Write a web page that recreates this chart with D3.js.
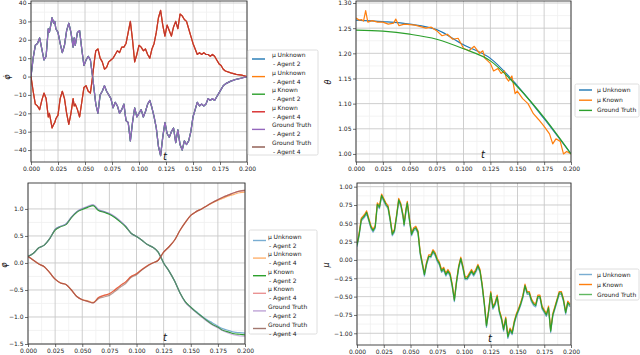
<!DOCTYPE html>
<html><head><meta charset="utf-8">
<script src="https://cdn.jsdelivr.net/npm/d3@7"></script>
<style>body{margin:0;background:#fff}svg{display:block}text{font-family:"DejaVu Sans",sans-serif}</style>
</head><body>
<svg id="c" width="640" height="355"></svg>
<script>
// ---------- DATA ----------
const xTicks = [0,0.025,0.05,0.075,0.1,0.125,0.15,0.175,0.2];

// Panel 1: phi-dot
const t1 = [0,0.002,0.004,0.006,0.008,0.010,0.012,0.014,0.016,0.017,0.018,0.0195,0.021,0.022,0.023,0.025,0.027,0.029,0.031,0.033,0.035,0.037,0.039,0.040,0.041,0.043,0.045,0.047,0.049,0.051,0.053,0.055,0.057,0.059,0.060,0.062,0.064,0.066,0.068,0.070,0.072,0.074,0.076,0.078,0.080,0.082,0.084,0.086,0.088,0.090,0.092,0.094,0.096,0.098,0.100,0.102,0.104,0.106,0.108,0.110,0.112,0.114,0.116,0.118,0.120,0.122,0.124,0.126,0.128,0.130,0.132,0.134,0.136,0.138,0.140,0.142,0.144,0.146,0.148,0.150,0.152,0.154,0.156,0.158,0.160,0.162,0.164,0.166,0.168,0.170,0.172,0.174,0.176,0.178,0.180,0.185,0.190,0.195,0.200];
const phiDot2 = [0,10,17,18,21,15,9,11,26,24,27,32,29,30,26,24,18,13,17,25,29,24,16,21,17,24,25,15,6,9,11,9,0,-10,-15,-20,-10,-8,-5,-8,-10,-12,-17,-14,-16,-20,-18,-15,-24,-25,-35,-25,-17,-22,-20,-18,-22,-19,-15,-13,-17,-22,-28,-38,-43,-33,-25,-31,-33,-30,-28,-36,-29,-37,-40,-35,-37,-35,-30,-22,-18,-14,-16,-15,-16,-15,-12,-13,-12,-13,-11,-9,-7,-5,-4,-2.5,-1.5,-0.8,0];
const phiDot4 = [0,-8,-15,-16,-18,-13,-9,-12,-22,-20,-23,-28,-26,-25,-23,-21,-12,-8,-12,-20,-26,-20,-12,-16,-15,-18,-22,-14,-6,-5,-8,-9,0,10,14,15,10,8,4,5,8,9,10,12,14,13,16,16,18,24,30,20,8,12,17,16,14,15,12,10,15,18,24,32,36,28,22,28,25,22,27,30,26,34,33,31,30,26,22,18,15,12,13,12,13,12,12,11,12,11,9,7,6,4,3,2,1.2,0.8,0];

// Panel 2: theta
const t2 = [0,0.025,0.05,0.075,0.1,0.125,0.15,0.175,0.2];
const thetaUnknown = [1.266,1.263,1.258,1.247,1.217,1.190,1.136,1.070,1.0];
const thetaTruth = [1.246,1.244,1.238,1.228,1.209,1.185,1.134,1.072,1.0];
const t2k = [0,0.003,0.005,0.007,0.009,0.011,0.015,0.02,0.025,0.03,0.035,0.037,0.04,0.045,0.05,0.055,0.06,0.065,0.07,0.075,0.08,0.085,0.09,0.095,0.1,0.105,0.11,0.115,0.118,0.12,0.125,0.128,0.132,0.135,0.138,0.14,0.142,0.145,0.148,0.15,0.155,0.16,0.165,0.17,0.175,0.18,0.183,0.186,0.19,0.193,0.196,0.2];
const thetaKnown = [1.270,1.266,1.267,1.264,1.285,1.262,1.265,1.262,1.262,1.258,1.260,1.268,1.255,1.258,1.257,1.256,1.253,1.250,1.252,1.245,1.235,1.238,1.228,1.230,1.210,1.205,1.214,1.200,1.205,1.190,1.180,1.165,1.170,1.160,1.165,1.150,1.145,1.155,1.120,1.125,1.110,1.100,1.080,1.068,1.055,1.040,1.020,1.030,1.025,1.000,1.005,1.000];

// Panel 3: phi
const t3 = [0,0.005,0.01,0.015,0.02,0.025,0.03,0.035,0.04,0.045,0.05,0.055,0.06,0.065,0.07,0.075,0.08,0.085,0.09,0.095,0.1,0.105,0.11,0.115,0.12,0.125,0.13,0.135,0.14,0.145,0.15,0.155,0.16,0.165,0.17,0.175,0.18,0.185,0.19,0.195,0.2];
const phi2Unknown = [0.12,0.18,0.28,0.33,0.45,0.62,0.68,0.72,0.85,0.95,1.0,1.04,1.07,0.98,0.95,0.91,0.85,0.77,0.68,0.55,0.49,0.42,0.34,0.29,0.2,0.0,-0.15,-0.33,-0.55,-0.72,-0.82,-0.9,-0.98,-1.05,-1.11,-1.17,-1.22,-1.25,-1.28,-1.29,-1.30];
const phi4Unknown = [0.12,0.05,-0.02,-0.07,-0.18,-0.3,-0.37,-0.4,-0.5,-0.62,-0.68,-0.7,-0.73,-0.64,-0.6,-0.57,-0.5,-0.42,-0.35,-0.25,-0.2,-0.12,-0.05,0.0,0.05,0.2,0.3,0.42,0.6,0.75,0.88,0.95,1.0,1.06,1.11,1.16,1.2,1.24,1.27,1.3,1.31];
const phi2Known = [0.12,0.18,0.28,0.33,0.45,0.61,0.67,0.71,0.84,0.94,0.99,1.03,1.06,0.97,0.94,0.90,0.84,0.76,0.67,0.55,0.49,0.42,0.34,0.29,0.2,0.0,-0.15,-0.33,-0.55,-0.72,-0.82,-0.91,-0.99,-1.07,-1.14,-1.19,-1.25,-1.28,-1.31,-1.32,-1.33];
const phi4Known = [0.12,0.05,-0.02,-0.07,-0.18,-0.3,-0.37,-0.4,-0.5,-0.62,-0.68,-0.71,-0.74,-0.64,-0.6,-0.57,-0.5,-0.42,-0.35,-0.25,-0.2,-0.12,-0.05,0.0,0.05,0.2,0.3,0.42,0.6,0.75,0.88,0.95,1.0,1.06,1.12,1.17,1.22,1.26,1.3,1.33,1.34];
const phi2Truth = [0.12,0.18,0.28,0.33,0.45,0.62,0.68,0.72,0.85,0.95,1.01,1.05,1.08,0.99,0.95,0.92,0.86,0.78,0.68,0.55,0.49,0.42,0.34,0.29,0.2,0.0,-0.15,-0.33,-0.55,-0.73,-0.83,-0.92,-1.0,-1.08,-1.15,-1.2,-1.26,-1.3,-1.33,-1.35,-1.36];
const phi4Truth = [0.12,0.05,-0.02,-0.07,-0.18,-0.3,-0.37,-0.4,-0.5,-0.62,-0.68,-0.71,-0.74,-0.66,-0.63,-0.6,-0.53,-0.45,-0.38,-0.27,-0.22,-0.13,-0.06,0.0,0.05,0.2,0.3,0.42,0.6,0.75,0.88,0.95,1.0,1.06,1.12,1.17,1.22,1.26,1.3,1.33,1.35];

// Panel 4: mu
const t4 = [0,0.002,0.004,0.007,0.009,0.011,0.013,0.015,0.017,0.019,0.021,0.023,0.025,0.027,0.029,0.031,0.033,0.035,0.037,0.039,0.041,0.043,0.044,0.046,0.047,0.049,0.051,0.053,0.055,0.057,0.059,0.061,0.063,0.065,0.067,0.069,0.071,0.073,0.075,0.077,0.079,0.081,0.083,0.085,0.087,0.089,0.091,0.093,0.095,0.097,0.099,0.101,0.103,0.105,0.107,0.109,0.111,0.113,0.115,0.117,0.119,0.121,0.123,0.125,0.127,0.129,0.131,0.133,0.135,0.137,0.139,0.141,0.143,0.145,0.147,0.149,0.151,0.153,0.155,0.157,0.159,0.161,0.163,0.165,0.167,0.169,0.171,0.173,0.175,0.177,0.179,0.181,0.183,0.185,0.187,0.189,0.191,0.193,0.195,0.197,0.199];
const muTruth = [0.2,0.35,0.55,0.6,0.65,0.55,0.45,0.4,0.45,0.76,0.72,0.88,0.82,0.76,0.72,0.55,0.35,0.4,0.6,0.82,0.75,0.6,0.48,0.7,0.78,0.55,0.35,0.42,0.44,0.38,0.1,-0.05,-0.2,-0.05,0.05,0.05,0.12,0.08,0.0,-0.05,-0.15,-0.12,-0.2,-0.15,-0.2,-0.35,-0.55,-0.3,-0.1,0.02,-0.1,-0.25,-0.25,-0.2,-0.15,-0.2,-0.15,-0.08,-0.15,-0.35,-0.6,-0.9,-0.7,-0.45,-0.65,-0.6,-0.5,-0.7,-0.8,-0.95,-0.8,-1.05,-0.95,-1.0,-0.85,-0.75,-0.68,-0.6,-0.5,-0.35,-0.45,-0.45,-0.55,-0.6,-0.62,-0.5,-0.5,-0.65,-0.7,-0.75,-0.65,-0.97,-0.75,-0.65,-0.55,-0.45,-0.45,-0.55,-0.72,-0.58,-0.62];
const muKnown = [0.22,0.37,0.57,0.62,0.67,0.57,0.47,0.42,0.47,0.78,0.74,0.9,0.84,0.78,0.74,0.57,0.37,0.42,0.62,0.84,0.77,0.62,0.5,0.72,0.8,0.57,0.37,0.44,0.46,0.4,0.12,-0.03,-0.18,-0.03,0.07,0.07,0.14,0.1,0.02,-0.03,-0.13,-0.1,-0.18,-0.13,-0.18,-0.33,-0.53,-0.28,-0.08,0.04,-0.08,-0.23,-0.23,-0.18,-0.13,-0.18,-0.13,-0.06,-0.13,-0.33,-0.58,-0.88,-0.68,-0.43,-0.63,-0.58,-0.48,-0.68,-0.78,-0.93,-0.78,-1.03,-0.93,-0.98,-0.83,-0.73,-0.66,-0.58,-0.48,-0.33,-0.43,-0.43,-0.53,-0.58,-0.6,-0.48,-0.48,-0.63,-0.68,-0.73,-0.63,-0.95,-0.73,-0.63,-0.53,-0.43,-0.43,-0.53,-0.7,-0.56,-0.6];
const muUnknown = [0.18,0.33,0.53,0.58,0.63,0.53,0.43,0.38,0.43,0.74,0.7,0.86,0.8,0.74,0.7,0.53,0.33,0.38,0.58,0.8,0.73,0.58,0.46,0.68,0.76,0.53,0.33,0.4,0.42,0.36,0.08,-0.07,-0.22,-0.07,0.03,0.03,0.1,0.06,-0.02,-0.07,-0.17,-0.14,-0.22,-0.17,-0.22,-0.37,-0.57,-0.32,-0.12,0.0,-0.12,-0.27,-0.27,-0.22,-0.17,-0.22,-0.17,-0.1,-0.17,-0.37,-0.62,-0.92,-0.72,-0.47,-0.67,-0.62,-0.52,-0.72,-0.82,-0.97,-0.82,-1.07,-0.97,-1.02,-0.87,-0.77,-0.7,-0.62,-0.52,-0.37,-0.47,-0.47,-0.57,-0.62,-0.64,-0.52,-0.52,-0.67,-0.72,-0.77,-0.67,-0.99,-0.77,-0.67,-0.57,-0.47,-0.47,-0.57,-0.74,-0.6,-0.64];

// ---------- DRAWING ----------
const svg = d3.select("#c");
const C = {blue:"#1f77b4",orange:"#ff7f0e",green:"#2ca02c",red:"#d62728",purple:"#9467bd",brown:"#8c564b"};
let clipId = 0;

function legendText(sel, x, y, str){
  if(str.startsWith("\u03bc ")){
    sel.append("text").attr("x",x).attr("y",y).attr("font-size",6).attr("fill","#222").text("\u03bc");
    sel.append("text").attr("x",x+5.6).attr("y",y).attr("font-size",6).attr("fill","#222").text(str.slice(2));
  } else {
    sel.append("text").attr("x",x).attr("y",y).attr("font-size",6).attr("fill","#222").text(str);
  }
}

function panel(cfg){
  const x = d3.scaleLinear().domain([0,0.2]).range([cfg.x0,cfg.x1]);
  const y = d3.scaleLinear().domain(cfg.yDom).range([cfg.y1,cfg.y0]);
  const g = svg.append("g");
  const xm = d3.range(0.0125,0.2,0.025);
  g.selectAll(null).data(xm).enter().append("line")
    .attr("x1",d=>x(d)).attr("x2",d=>x(d)).attr("y1",cfg.y0).attr("y2",cfg.y1)
    .attr("stroke","#f0f0f0").attr("stroke-width",0.8);
  const ym = [];
  for(let i=0;i<cfg.yTicks.length-1;i++) ym.push((cfg.yTicks[i]+cfg.yTicks[i+1])/2);
  g.selectAll(null).data(ym).enter().append("line")
    .attr("x1",cfg.x0).attr("x2",cfg.x1).attr("y1",d=>y(d)).attr("y2",d=>y(d))
    .attr("stroke","#f0f0f0").attr("stroke-width",0.8);
  g.selectAll(null).data(xTicks).enter().append("line")
    .attr("x1",d=>x(d)).attr("x2",d=>x(d)).attr("y1",cfg.y0).attr("y2",cfg.y1)
    .attr("stroke","#c8c8c8").attr("stroke-width",0.9);
  g.selectAll(null).data(cfg.yTicks).enter().append("line")
    .attr("x1",cfg.x0).attr("x2",cfg.x1).attr("y1",d=>y(d)).attr("y2",d=>y(d))
    .attr("stroke","#c8c8c8").attr("stroke-width",0.9);
  const id = "clip"+(clipId++);
  svg.append("clipPath").attr("id",id).append("rect")
    .attr("x",cfg.x0).attr("y",cfg.y0).attr("width",cfg.x1-cfg.x0).attr("height",cfg.y1-cfg.y0);
  const lg = g.append("g").attr("clip-path","url(#"+id+")");
  cfg.series.forEach(s=>{
    const line = d3.line().x((d,i)=>x(s.t[i])).y(d=>y(d)).curve(s.curve||d3.curveLinear);
    lg.append("path").attr("d",line(s.v)).attr("fill","none")
      .attr("stroke",s.color).attr("stroke-width",s.w||1.2)
      .attr("stroke-opacity",s.op||1).attr("stroke-linejoin","round");
  });
  const xa = d3.axisBottom(x).tickValues(xTicks).tickFormat(d3.format(".3f")).tickSize(3).tickPadding(1.5);
  const ya = d3.axisLeft(y).tickValues(cfg.yTicks).tickFormat(cfg.yFmt).tickSize(3).tickPadding(1.5);
  const gx = g.append("g").attr("transform",`translate(0,${cfg.y1})`).call(xa);
  const gy = g.append("g").attr("transform",`translate(${cfg.x0},0)`).call(ya);
  [gx,gy].forEach(a=>{
    a.select(".domain").remove();
    a.selectAll("text").attr("font-size",6).attr("fill","#222").attr("font-family","DejaVu Sans");
    a.selectAll("line").attr("stroke","#333").attr("stroke-width",0.7);
  });
  g.append("rect").attr("x",cfg.x0).attr("y",cfg.y0).attr("width",cfg.x1-cfg.x0).attr("height",cfg.y1-cfg.y0)
    .attr("fill","none").attr("stroke","#333").attr("stroke-width",0.9);
  g.append("text").attr("x",cfg.tx).attr("y",cfg.ty).text("t")
    .attr("font-family","DejaVu Serif").attr("font-style","italic").attr("font-size",10).attr("text-anchor","middle").attr("fill","#111");
  g.append("text").attr("transform",`translate(${cfg.lx},${cfg.ly}) rotate(-90)`).text(cfg.ylabel)
    .attr("font-family","DejaVu Serif").attr("font-style","italic").attr("font-size",8).attr("text-anchor","middle").attr("fill","#111");
  const L = cfg.legend;
  const lgd = svg.append("g");
  lgd.append("rect").attr("x",L.x).attr("y",L.y).attr("width",L.w).attr("height",L.h).attr("rx",1.5)
    .attr("fill","#fff").attr("fill-opacity",0.85).attr("stroke","#d6d6d6").attr("stroke-width",0.8);
  L.items.forEach((it,i)=>{
    const cy = L.first + i*L.step;
    lgd.append("line").attr("x1",L.x+4).attr("x2",L.x+17).attr("y1",cy).attr("y2",cy)
      .attr("stroke",it.color).attr("stroke-width",1.4).attr("stroke-opacity",it.op||1);
    if(it.l2){
      legendText(lgd, L.x+L.tx, cy-2, it.l1);
      legendText(lgd, L.x+L.tx+1, cy+7, it.l2);
    } else {
      legendText(lgd, L.x+L.tx, cy+2, it.l1);
    }
  });
}

const fmtInt = d=> (d<0?"\u2212":"")+Math.abs(d);
const fmt2 = d=> (d<0?"\u2212":"")+d3.format(".2f")(Math.abs(d));
const fmt1 = d=> (d<0?"\u2212":"")+d3.format(".1f")(Math.abs(d));

const agentItems = (ops)=>[
  {l1:"\u03bc Unknown",l2:" - Agent 2",color:C.blue,op:ops[0]},
  {l1:"\u03bc Unknown",l2:" - Agent 4",color:C.orange,op:ops[1]},
  {l1:"\u03bc Known",l2:" - Agent 2",color:C.green,op:ops[2]},
  {l1:"\u03bc Known",l2:" - Agent 4",color:C.red,op:ops[3]},
  {l1:"Ground Truth",l2:" - Agent 2",color:C.purple,op:ops[4]},
  {l1:"Ground Truth",l2:" - Agent 4",color:C.brown,op:ops[5]}
];

panel({x0:31,x1:247,y0:1,y1:162,yDom:[-46.5,41.1],yTicks:[-40,-30,-20,-10,0,10,20,30,40],yFmt:fmtInt,
  tx:165,ty:160,lx:10,ly:77,ylabel:"\u03c6\u0307",
  series:[
    {t:t1,v:phiDot2,color:C.blue},{t:t1,v:phiDot4,color:C.orange},
    {t:t1,v:phiDot2,color:C.green},{t:t1,v:phiDot4,color:C.red},
    {t:t1,v:phiDot2,color:C.purple,w:1.3},{t:t1,v:phiDot4,color:C.brown,op:0.3}
  ],
  legend:{x:248,y:50,w:70,h:105,first:59,step:17.6,tx:24,items:agentItems([1,1,1,1,1,1])}
});

panel({x0:356,x1:571,y0:1,y1:162,yDom:[0.984,1.304],yTicks:[1.0,1.05,1.1,1.15,1.2,1.25,1.3],yFmt:d3.format(".2f"),
  tx:483,ty:158,lx:331,ly:82,ylabel:"\u03b8",
  series:[
    {t:t2,v:thetaUnknown,color:C.blue,curve:d3.curveMonotoneX},
    {t:t2k,v:thetaKnown,color:C.orange},
    {t:t2,v:thetaTruth,color:C.green,curve:d3.curveMonotoneX}
  ],
  legend:{x:575,y:84,w:64,h:33,first:90,step:10.2,tx:22,items:[
    {l1:"\u03bc Unknown",color:C.blue},{l1:"\u03bc Known",color:C.orange},{l1:"Ground Truth",color:C.green}]}
});

panel({x0:28,x1:245,y0:183,y1:344,yDom:[-1.5,1.48],yTicks:[-1.5,-1.0,-0.5,0.0,0.5,1.0],yFmt:fmt1,
  tx:165,ty:341,lx:7,ly:265,ylabel:"\u03c6",
  series:[
    {t:t3,v:phi2Unknown,color:C.blue,op:0.6,curve:d3.curveMonotoneX},{t:t3,v:phi4Unknown,color:C.orange,op:0.6,curve:d3.curveMonotoneX},
    {t:t3,v:phi2Known,color:C.green,curve:d3.curveMonotoneX},{t:t3,v:phi4Known,color:C.red,op:0.6,curve:d3.curveMonotoneX},
    {t:t3,v:phi2Truth,color:C.purple,op:0.45,curve:d3.curveMonotoneX},{t:t3,v:phi4Truth,color:C.brown,op:0.6,curve:d3.curveMonotoneX}
  ],
  legend:{x:249,y:230,w:68,h:104,first:240.5,step:17.6,tx:19,items:agentItems([0.6,0.6,1,0.5,0.6,0.8])}
});

panel({x0:357,x1:571,y0:183,y1:345,yDom:[-1.16,1.05],yTicks:[-1.0,-0.75,-0.5,-0.25,0,0.25,0.5,0.75,1.0],yFmt:fmt2,
  tx:490,ty:342,lx:329,ly:265,ylabel:"\u03bc",
  series:[
    {t:t4,v:muUnknown,color:C.blue,op:0.6},
    {t:t4,v:muKnown,color:C.orange},
    {t:t4,v:muTruth,color:C.green}
  ],
  legend:{x:575,y:269,w:64,h:31,first:274.5,step:10,tx:22,items:[
    {l1:"\u03bc Unknown",color:C.blue,op:0.6},{l1:"\u03bc Known",color:C.orange},{l1:"Ground Truth",color:C.green,op:0.75}]}
});
</script>
</body></html>
